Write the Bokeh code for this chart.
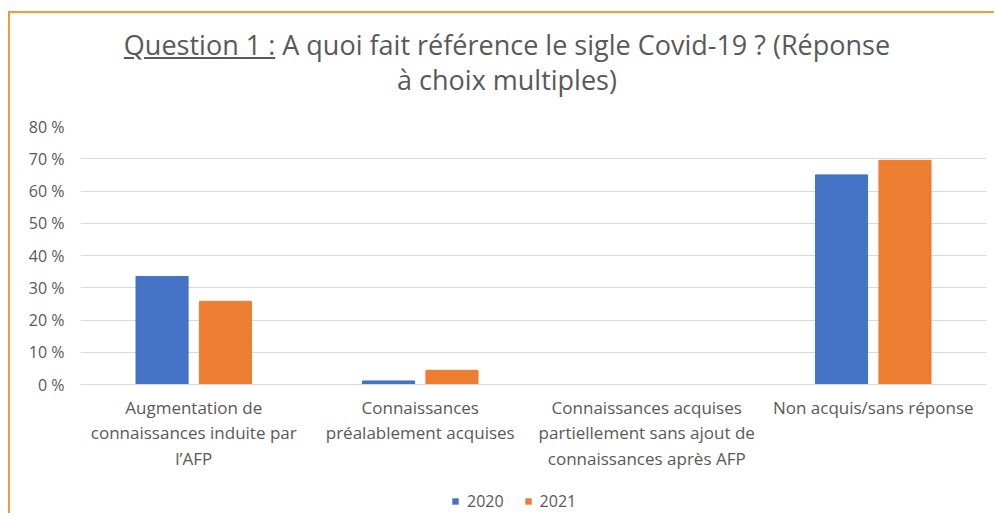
from bokeh.plotting import figure
from bokeh.models import Div, Legend, LegendItem, FactorRange, Range1d, FixedTicker, ColumnDataSource
from bokeh.layouts import column
from bokeh.transform import dodge
from bokeh.embed import file_html
from bokeh.resources import INLINE

categories = [
    "Augmentation de\nconnaissances induite par\nl\u2019AFP",
    "Connaissances\npréalablement acquises",
    "Connaissances acquises\npartiellement sans ajout de\nconnaissances après AFP",
    "Non acquis/sans réponse",
]
values_2020 = [33.5, 1.1, 0, 65]
values_2021 = [25.8, 4.4, 0, 69.5]
y_ticks = [0, 10, 20, 30, 40, 50, 60, 70, 80]
y_tick_labels = ["0 %", "10 %", "20 %", "30 %", "40 %", "50 %", "60 %", "70 %", "80 %"]
series_names = ["2020", "2021"]

BLUE = "#4472C4"
ORANGE = "#ED7D31"
GREY = "#595959"
FRAME = "#F59B2F"
FONT = "Open Sans"
W = 984

source = ColumnDataSource(dict(cat=categories, v2020=values_2020, v2021=values_2021))

title_html = (
    f'<div style="width:{W}px; box-sizing:border-box; font-family:\'Open Sans\'; font-size:27px; color:#595959; '
    'line-height:35px; text-align:center; padding-top:14px; padding-left:10px; white-space:nowrap;">'
    '<u>Question 1 :</u> A quoi fait référence le sigle Covid-19 ? (Réponse<br>à choix multiples)</div>'
)
div = Div(text=title_html, width=W, height=100, margin=0)

p = figure(
    x_range=FactorRange(*categories, range_padding=0),
    y_range=Range1d(0, 80),
    width=W, height=360,
    output_backend="svg", toolbar_location=None,
    min_border_left=70, min_border_right=8, min_border_top=13, min_border_bottom=89,
)
p.outline_line_color = None
p.background_fill_color = "white"
p.border_fill_color = "white"

r1 = p.vbar(x=dodge("cat", -0.14, range=p.x_range), top="v2020", width=0.23, source=source,
            fill_color=BLUE, line_color=BLUE)
r2 = p.vbar(x=dodge("cat", 0.14, range=p.x_range), top="v2021", width=0.23, source=source,
            fill_color=ORANGE, line_color=ORANGE)

p.xgrid.grid_line_color = None
p.ygrid.grid_line_color = "#D9D9D9"
p.ygrid.grid_line_width = 1
p.ygrid.ticker = FixedTicker(ticks=y_ticks)

p.yaxis.ticker = FixedTicker(ticks=y_ticks)
p.yaxis.major_label_overrides = {t: l for t, l in zip(y_ticks, y_tick_labels)}
p.yaxis.axis_line_color = None
p.yaxis.major_tick_line_color = None
p.yaxis.minor_tick_line_color = None
p.yaxis.major_tick_out = 0
p.yaxis.major_label_standoff = 16
p.yaxis.major_label_text_font = FONT
p.yaxis.major_label_text_font_size = "16px"
p.yaxis.major_label_text_color = GREY

p.xaxis.axis_line_color = "#D9D9D9"
p.xaxis.major_tick_line_color = None
p.xaxis.major_tick_out = 0
p.xaxis.major_label_standoff = 11
p.xaxis.major_label_text_font = FONT
p.xaxis.major_label_text_font_size = "17px"
p.xaxis.major_label_text_color = GREY
p.xaxis.major_label_text_line_height = 1.12
p.xaxis.major_label_orientation = "horizontal"

# Legend strip (separate figure below the chart; its frame is aligned with the chart's frame)
lg = figure(
    x_range=Range1d(0, 1), y_range=Range1d(0, 1),
    width=W, height=40, output_backend="svg", toolbar_location=None,
    x_axis_location=None, y_axis_location=None,
    min_border_left=0, min_border_right=0, min_border_top=0, min_border_bottom=0,
)
lg.grid.visible = False
lg.outline_line_color = None
lg.border_fill_color = "white"
lg.background_fill_color = "white"
# zero-size key glyphs (nothing visible is drawn; they only provide the legend swatches)
k1 = lg.vbar(x=[0.5], top=[0], bottom=[0], width=0, fill_color=BLUE, line_color=None)
k2 = lg.vbar(x=[0.5], top=[0], bottom=[0], width=0, fill_color=ORANGE, line_color=None)

legend = Legend(
    items=[LegendItem(label=series_names[0], renderers=[k1]),
           LegendItem(label=series_names[1], renderers=[k2])],
    orientation="horizontal", location=(371, 1),
    padding=0, margin=0, spacing=20, label_standoff=8,
    glyph_width=8, glyph_height=8, label_height=20,
    label_text_font=FONT, label_text_font_size="16px", label_text_color=GREY,
    border_line_color=None, background_fill_alpha=0,
)
lg.add_layout(legend)

layout = column(div, p, lg, spacing=0, margin=(11, 0, 0, 8),
                styles={"border-top": f"2px solid {FRAME}", "border-left": f"2px solid {FRAME}"})

open("out.html", "w").write(file_html(layout, INLINE))
